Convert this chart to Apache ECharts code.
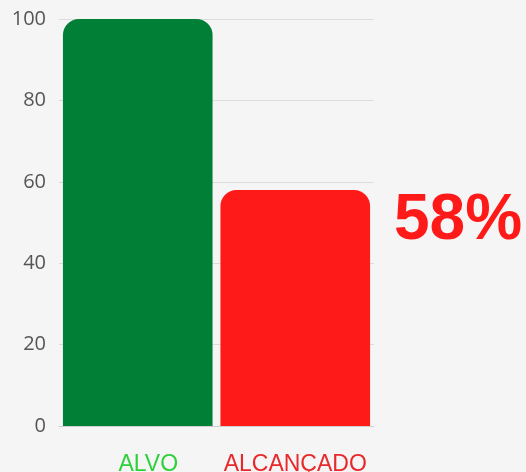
<!DOCTYPE html>
<html>
<head>
<meta charset="utf-8">
<script src="https://cdn.jsdelivr.net/npm/echarts@6/dist/echarts.min.js"></script>
<style>
  html, body { margin: 0; padding: 0; background: #f5f5f5; }
  #chart { width: 526px; height: 472px; }
</style>
</head>
<body>
<div id="chart"></div>
<script>
// dados do gráfico
const categorias = ['ALVO', 'ALCANÇADO']
const valores = [100, 58]
const coresBarras = ['#017f37', '#ff1a1a']
const coresRotulos = ['#2fd13b', '#e8282b']
const percentual = '58%'

const chart = echarts.init(document.getElementById('chart'))

chart.setOption({
  backgroundColor: '#f5f5f5',
  animation: false,
  grid: { left: 59, right: 152, top: 19, bottom: 46, outerBoundsMode: 'none' },
  xAxis: {
    type: 'category',
    data: categorias,
    axisLine: { show: true, lineStyle: { color: '#d0d0d0' } },
    axisTick: { show: false },
    axisLabel: {
      interval: 0,
      margin: 27,
      formatter: function(v, i) { return '{c' + i + '|' + v + '}' },
      rich: {
        c0: { color: coresRotulos[0], fontSize: 23, fontFamily: 'Liberation Sans', padding: [0, 0, 0, 21] },
        c1: { color: coresRotulos[1], fontSize: 23, fontFamily: 'Liberation Sans' }
      }
    }
  },
  yAxis: {
    type: 'value',
    min: 0,
    max: 100,
    interval: 20,
    axisLabel: { color: '#555', fontSize: 20, fontFamily: 'Open Sans', margin: 13 },
    splitLine: { lineStyle: { color: '#dcdcdc' } }
  },
  series: [
    {
      type: 'bar',
      barCategoryGap: '5%',
      data: valores.map((v, i) => ({
        value: v,
        itemStyle: { color: coresBarras[i], borderRadius: [16, 16, 0, 0] }
      }))
    }
  ],
  graphic: [
    {
      type: 'text',
      left: 394,
      top: 189,
      style: {
        text: percentual,
        fill: '#ff1a1a',
        font: 'bold 64px "Liberation Sans"',
        shadowColor: 'rgba(60,90,80,0.25)',
        shadowBlur: 3,
        shadowOffsetX: 2,
        shadowOffsetY: 2
      }
    }
  ]
})
</script>
</body>
</html>
